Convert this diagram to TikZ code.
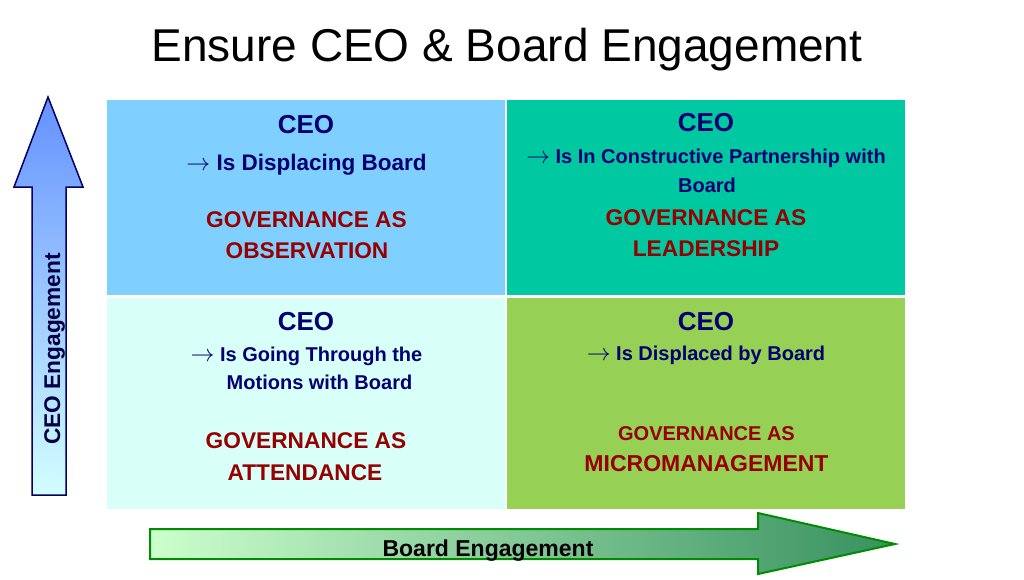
\documentclass[tikz,border=0pt]{standalone}
\usepackage{graphicx}
\usepackage{fontspec}
\setmainfont{Liberation Sans}
\definecolor{navy}{RGB}{0,0,115}
\definecolor{dred}{RGB}{150,0,0}
\definecolor{ptl}{RGB}{128,208,255}
\definecolor{ptr}{RGB}{0,200,160}
\definecolor{pbl}{RGB}{216,255,248}
\definecolor{pbr}{RGB}{150,208,85}
\definecolor{upline}{RGB}{0,0,100}
\definecolor{uptop}{RGB}{100,145,255}
\definecolor{upbot}{RGB}{210,255,255}
\definecolor{rtline}{RGB}{0,140,0}
\definecolor{rtleft}{RGB}{204,255,204}
\definecolor{rtright}{RGB}{55,145,95}
\newcommand{\fsz}[1]{\fontsize{#1}{#1}\selectfont}
\newcommand{\rarr}{\scalebox{1.15}{$\rightarrow$}}
\begin{document}
\begin{tikzpicture}[x=1pt,y=-1pt,
  panel/.style={rectangle,draw=none,inner sep=0pt,outer sep=0pt,anchor=north west,minimum width=398pt},
  ceo/.style={anchor=base,inner sep=0pt,text=navy,font=\fsz{26}\bfseries},
  sub/.style={anchor=base,inner sep=0pt,text=navy,font=\fsz{20}\bfseries},
  subb/.style={anchor=base,inner sep=0pt,text=navy,font=\fsz{22.5}\bfseries},
  gov/.style={anchor=base,inner sep=0pt,text=dred,font=\fsz{22.7}\bfseries},
  govs/.style={anchor=base,inner sep=0pt,text=dred,font=\fsz{20}\bfseries},
  axlabel/.style={anchor=base,inner sep=0pt,text=black,font=\fsz{23}\bfseries}]
\useasboundingbox (0,0) rectangle (1024,580);
\fill[white] (0,0) rectangle (1024,580);
% title
\node[anchor=base,inner sep=0pt,font=\fsz{46}] (title) at (507,62) {Ensure CEO \& Board Engagement};
% panels
\node[panel,fill=ptl,minimum height=195pt] (tl) at (107,100) {};
\node[panel,fill=ptr,minimum height=195pt] (tr) at (507,100) {};
\node[panel,fill=pbl,minimum height=211pt] (bl) at (107,298) {};
\node[panel,fill=pbr,minimum height=211pt] (br) at (507,298) {};
% top-left
\node[ceo] (tlceo) at (306,134) {CEO};
\node[subb] (tlsub) at (306.5,171) {\rarr\ Is Displacing Board};
\node[gov] (tlg1) at (306.5,227) {GOVERNANCE AS};
\node[gov] (tlg2) at (307,258.5) {OBSERVATION};
% top-right
\node[ceo] (trceo) at (706,132) {CEO};
\node[sub] (trsub1) at (706,164) {\rarr\ Is In Constructive Partnership with};
\node[sub] (trsub2) at (707,192) {Board};
\node[gov] (trg1) at (706,225) {GOVERNANCE AS};
\node[gov] (trg2) at (706,256) {LEADERSHIP};
% bottom-left
\node[ceo] (blceo) at (306,330) {CEO};
\node[sub] (blsub1) at (306.5,361) {\rarr\ Is Going Through the};
\node[sub] (blsub2) at (319.5,389) {Motions with Board};
\node[gov] (blg1) at (306,448) {GOVERNANCE AS};
\node[gov] (blg2) at (305,480) {ATTENDANCE};
% bottom-right
\node[ceo] (brceo) at (706,330) {CEO};
\node[sub] (brsub) at (706,360) {\rarr\ Is Displaced by Board};
\node[govs] (brg1) at (706.5,440) {GOVERNANCE AS};
\node[gov,font=\fsz{23}\bfseries] (brg2) at (706.5,471) {MICROMANAGEMENT};
% vertical arrow
\draw[draw=upline,line width=1.5pt,line join=miter,top color=uptop,bottom color=upbot]
  (48,97) -- (83,187) -- (66,187) -- (66,495) -- (32,495) -- (32,187) -- (14,187) -- cycle;
\node[axlabel,text=navy!60!black,rotate=90,font=\fsz{22.7}\bfseries] (ceoeng) at (60,349) {CEO Engagement};
% horizontal arrow
\draw[draw=rtline,line width=2pt,line join=miter,left color=rtleft,right color=rtright]
  (150,529) -- (758,529) -- (758,513) -- (895,544) -- (758,574) -- (758,559) -- (150,559) -- cycle;
\node[axlabel] (boardeng) at (488,556) {Board Engagement};
\end{tikzpicture}
\end{document}
